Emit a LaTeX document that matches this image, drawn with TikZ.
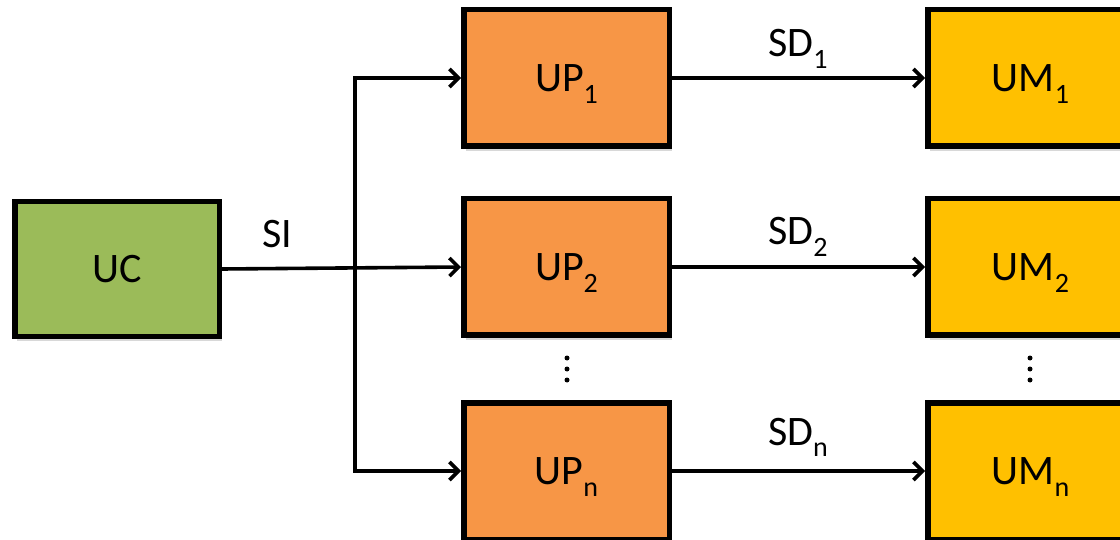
\documentclass[tikz,border=0pt]{standalone}
\usepackage{fontspec}
\setmainfont{Carlito}
\usetikzlibrary{arrows.meta,shadows}
\definecolor{ucgreen}{HTML}{9BBB59}
\definecolor{uporange}{HTML}{F79646}
\definecolor{umgold}{HTML}{FFC000}
% lowered, smaller index in the style of the block labels
\newcommand\lowsub[1]{\raisebox{-0.28em}{\fontsize{28}{28}\selectfont #1}}

\begin{document}
\begin{tikzpicture}[x=1pt,y=-1pt,
  unit/.style={draw=black, line width=5.5pt, minimum width=205.5pt, minimum height=136.5pt,
    inner sep=0pt, font=\fontsize{42}{42}\selectfont, text height=27pt, text depth=0pt,
    drop shadow={shadow xshift=2.5pt, shadow yshift=-5pt, opacity=0.3}},
  link/.style={line width=3.6pt, -{Straight Barb[length=9pt,width=18pt]}},
  tag/.style={font=\fontsize{42}{42}\selectfont, anchor=base, inner sep=0pt},
  dot/.style={circle, fill=black, inner sep=0pt, minimum size=5pt}
]
\useasboundingbox (0,0) rectangle (1120,540);
\fill[white] (0,0) rectangle (1120,540);

% controller
\node[unit, fill=ucgreen, minimum width=204.5pt, minimum height=134.5pt] (UC) at (117,269) {UC};

% processing units
\node[unit, fill=uporange] (UP1) at (566.5,78) {UP\lowsub{1}};
\node[unit, fill=uporange] (UP2) at (566.5,267) {UP\lowsub{2}};
\node[unit, fill=uporange] (UPn) at (566.5,471) {UP\lowsub{n}};

% modules
\node[unit, fill=umgold] (UM1) at (1030.5,78) {UM\lowsub{1}};
\node[unit, fill=umgold] (UM2) at (1030.5,267) {UM\lowsub{2}};
\node[unit, fill=umgold] (UMn) at (1030.5,471) {UM\lowsub{n}};

% distribution of SI
\coordinate (split) at (355,268);
\draw[link] (UC.east) -- (UP2.west);
\draw[link] (split) |- (UP1.west);
\draw[link] (split) |- (UPn.west);
\node[tag] (SI) at (277,248) {SI};

% data links
\draw[link] (UP1.east) -- (UM1.west);
\draw[link] (UP2.east) -- (UM2.west);
\draw[link] (UPn.east) -- (UMn.west);
\node[tag] (SD1) at (798,57) {SD\lowsub{1}};
\node[tag] (SD2) at (798,245) {SD\lowsub{2}};
\node[tag] (SDn) at (798,445) {SD\lowsub{n}};

% vertical ellipses
\foreach \x/\n in {567/P, 1030/M} {
  \node[dot] (e\n a) at (\x,358) {};
  \node[dot] (e\n b) at (\x,369) {};
  \node[dot] (e\n c) at (\x,380) {};
}
\end{tikzpicture}
\end{document}
